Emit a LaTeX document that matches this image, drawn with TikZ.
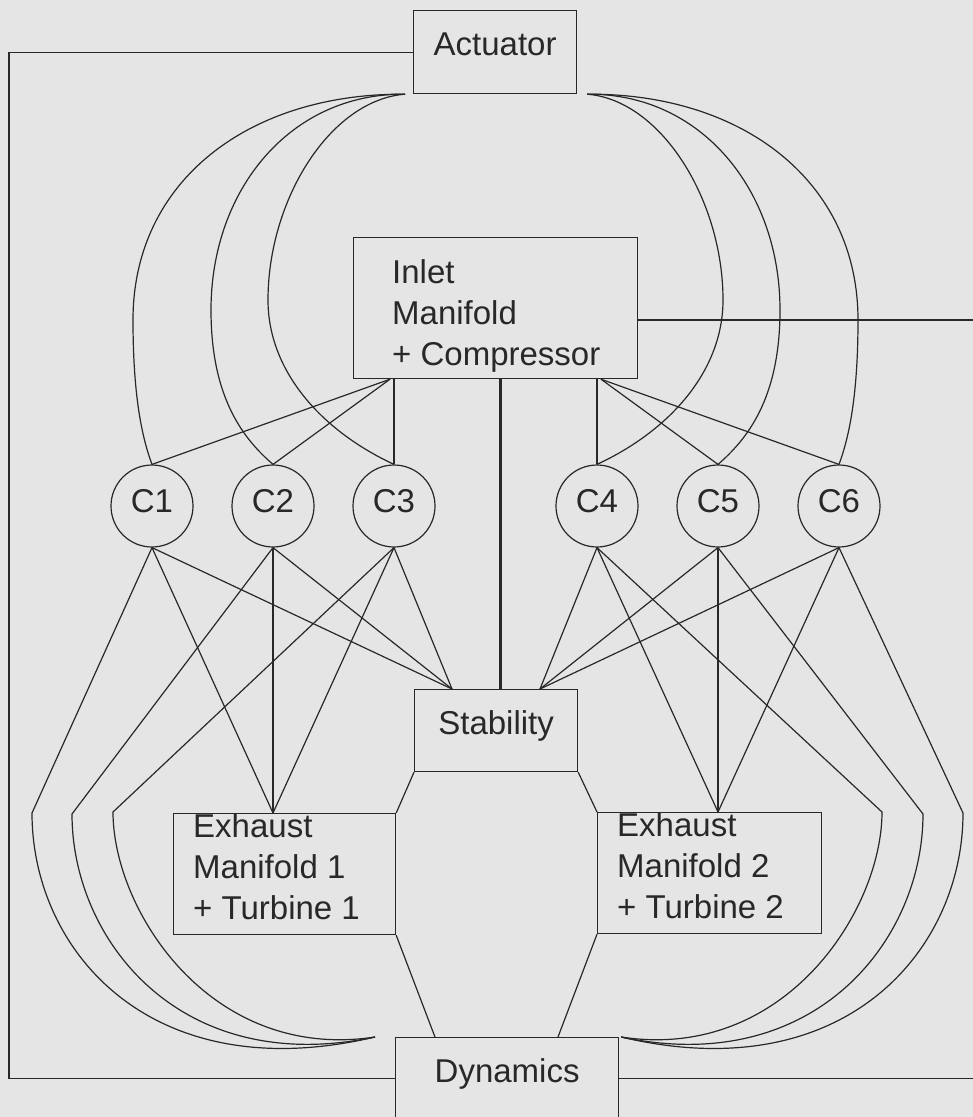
\documentclass[tikz,border=0pt]{standalone}
\usepackage{fontspec}
\setmainfont{Liberation Sans}
\usetikzlibrary{calc}
\definecolor{paper}{RGB}{229,229,229}
\definecolor{ink}{RGB}{40,40,40}
\begin{document}
\begin{tikzpicture}[x=1pt,y=-1pt,
  wire/.style={draw=ink,line width=1.2pt},
  heavy/.style={draw=ink,line width=3.2pt},
  box/.style={draw=ink,line width=1.2pt,inner sep=0pt,anchor=north west,text=ink,
    font=\fontsize{33}{41}\selectfont},
  onebox/.style={box,text height=45pt,text depth=37pt},
  lab/.style={inner sep=0pt,anchor=base west,text=ink,font=\fontsize{33}{41}\selectfont},
  cyl/.style={circle,draw=ink,line width=1.2pt,minimum size=82pt,inner sep=0pt,
    text height=24pt,text depth=12pt,text=ink,font=\fontsize{33}{41}\selectfont}]
\fill[paper] (0,0) rectangle (973,1117);
\useasboundingbox (0,0) rectangle (973,1117);

% blocks
\node[onebox,minimum width=163pt,text depth=38pt] (act) at (413,10) {Actuator};
\node[onebox,minimum width=163pt] (stab) at (414,689) {Stability};
\node[onebox,minimum width=223pt] (dyn) at (395,1037) {Dynamics};
\node[box,minimum width=284pt,minimum height=141pt] (inlet) at (353,237) {};
\node[box,minimum width=222pt,minimum height=121pt] (ex1) at (173,813) {};
\node[box,minimum width=224pt,minimum height=121pt] (ex2) at (597,812) {};

% block texts
\node[lab] (inA) at (392,283) {Inlet};
\node[lab] (inB) at (392,324) {Manifold};
\node[lab] (inC) at (392,365) {+ Compressor};
\node[lab] (eaA) at (193,837) {Exhaust};
\node[lab] (eaB) at (193,878) {Manifold 1};
\node[lab] (eaC) at (193,919) {+ Turbine 1};
\node[lab] (ebA) at (617,836) {Exhaust};
\node[lab] (ebB) at (617,877) {Manifold 2};
\node[lab] (ebC) at (617,918) {+ Turbine 2};

% cylinders
\foreach \n/\x in {1/152,2/273,3/394,4/597,5/718,6/839}
  \node[cyl] (c\n) at (\x,506) {C\n};

% attachment points
\coordinate (al) at ([xshift=-8pt]act.south west);
\coordinate (ar) at ([xshift=10pt]act.south east);
\coordinate (fl) at ([xshift=37pt]inlet.south west);
\coordinate (fr) at ([xshift=248pt]inlet.south west);
\coordinate (ts) at ([xshift=5pt]inlet.south);
\coordinate (ie) at ([yshift=-83pt]inlet.north east);
\coordinate (sl) at ([xshift=38pt]stab.north west);
\coordinate (sr) at ([xshift=126pt]stab.north west);
\coordinate (e1t) at (c2.south |- ex1.north);
\coordinate (e2t) at (c5.south |- ex2.north);
\coordinate (dl) at ([xshift=40pt]dyn.north west);
\coordinate (dr) at ([xshift=163pt]dyn.north west);
\coordinate (cl) at ([xshift=-20pt]dyn.north west);
\coordinate (cr) at ([xshift=2pt]dyn.north east);
\coordinate (k1) at (32,813);
\coordinate (k2) at (72,814);
\coordinate (k3) at (113,812);
\coordinate (k4) at (882,812);
\coordinate (k5) at (923,814);
\coordinate (k6) at (963,813);

% outer feedback loops
\draw[wire] (act.west) -- ++(-404,0) |- (dyn.west);
\draw[wire] (ie) -- ++(360,0) |- (dyn.east);

% actuator arcs to the cylinders
\draw[wire] (al) .. controls (250,93) and (133,180) .. (133,320)
               .. controls (133,400) and (143,440) .. (c1.north);
\draw[wire] (al) .. controls (290,93) and (211,190) .. (211,310)
               .. controls (211,400) and (245,440) .. (c2.north);
\draw[wire] (al) .. controls (330,100) and (268,200) .. (268,300)
               .. controls (268,370) and (320,430) .. (c3.north);
\draw[wire] (ar) .. controls (741,93) and (858,180) .. (858,320)
               .. controls (858,400) and (848,440) .. (c6.north);
\draw[wire] (ar) .. controls (701,93) and (780,190) .. (780,310)
               .. controls (780,400) and (746,440) .. (c5.north);
\draw[wire] (ar) .. controls (661,100) and (723,200) .. (723,300)
               .. controls (723,370) and (671,430) .. (c4.north);

% inlet manifold to cylinders
\draw[wire] (fl) -- (c1.north);
\draw[wire] (fl) -- (c2.north);
\draw[wire] (c3.north) -- (c3.north |- inlet.south);
\draw[wire] (c4.north) -- (c4.north |- inlet.south);
\draw[wire] (fr) -- (c5.north);
\draw[wire] (fr) -- (c6.north);
\draw[heavy] (ts) -- (ts |- stab.north);

% cylinders to stability and exhaust manifolds
\foreach \n in {1,2,3} {
  \draw[wire] (c\n.south) -- (sl);
  \draw[wire] (c\n.south) -- (e1t);
}
\foreach \n in {4,5,6} {
  \draw[wire] (c\n.south) -- (sr);
  \draw[wire] (c\n.south) -- (e2t);
}

% cylinders to dynamics
\draw[wire] (c1.south) -- (k1) .. controls (32,950) and (150,1090) .. (cl);
\draw[wire] (c2.south) -- (k2) .. controls (72,940) and (180,1078) .. (cl);
\draw[wire] (c3.south) -- (k3) .. controls (113,910) and (210,1062) .. (cl);
\draw[wire] (c4.south) -- (k4) .. controls (882,910) and (785,1062) .. (cr);
\draw[wire] (c5.south) -- (k5) .. controls (923,940) and (815,1078) .. (cr);
\draw[wire] (c6.south) -- (k6) .. controls (963,950) and (845,1090) .. (cr);

% stability / exhaust / dynamics links
\draw[wire] (stab.south west) -- (ex1.north east);
\draw[wire] (stab.south east) -- (ex2.north west);
\draw[wire] (ex1.south east) -- (dl);
\draw[wire] (ex2.south west) -- (dr);
\end{tikzpicture}
\end{document}
